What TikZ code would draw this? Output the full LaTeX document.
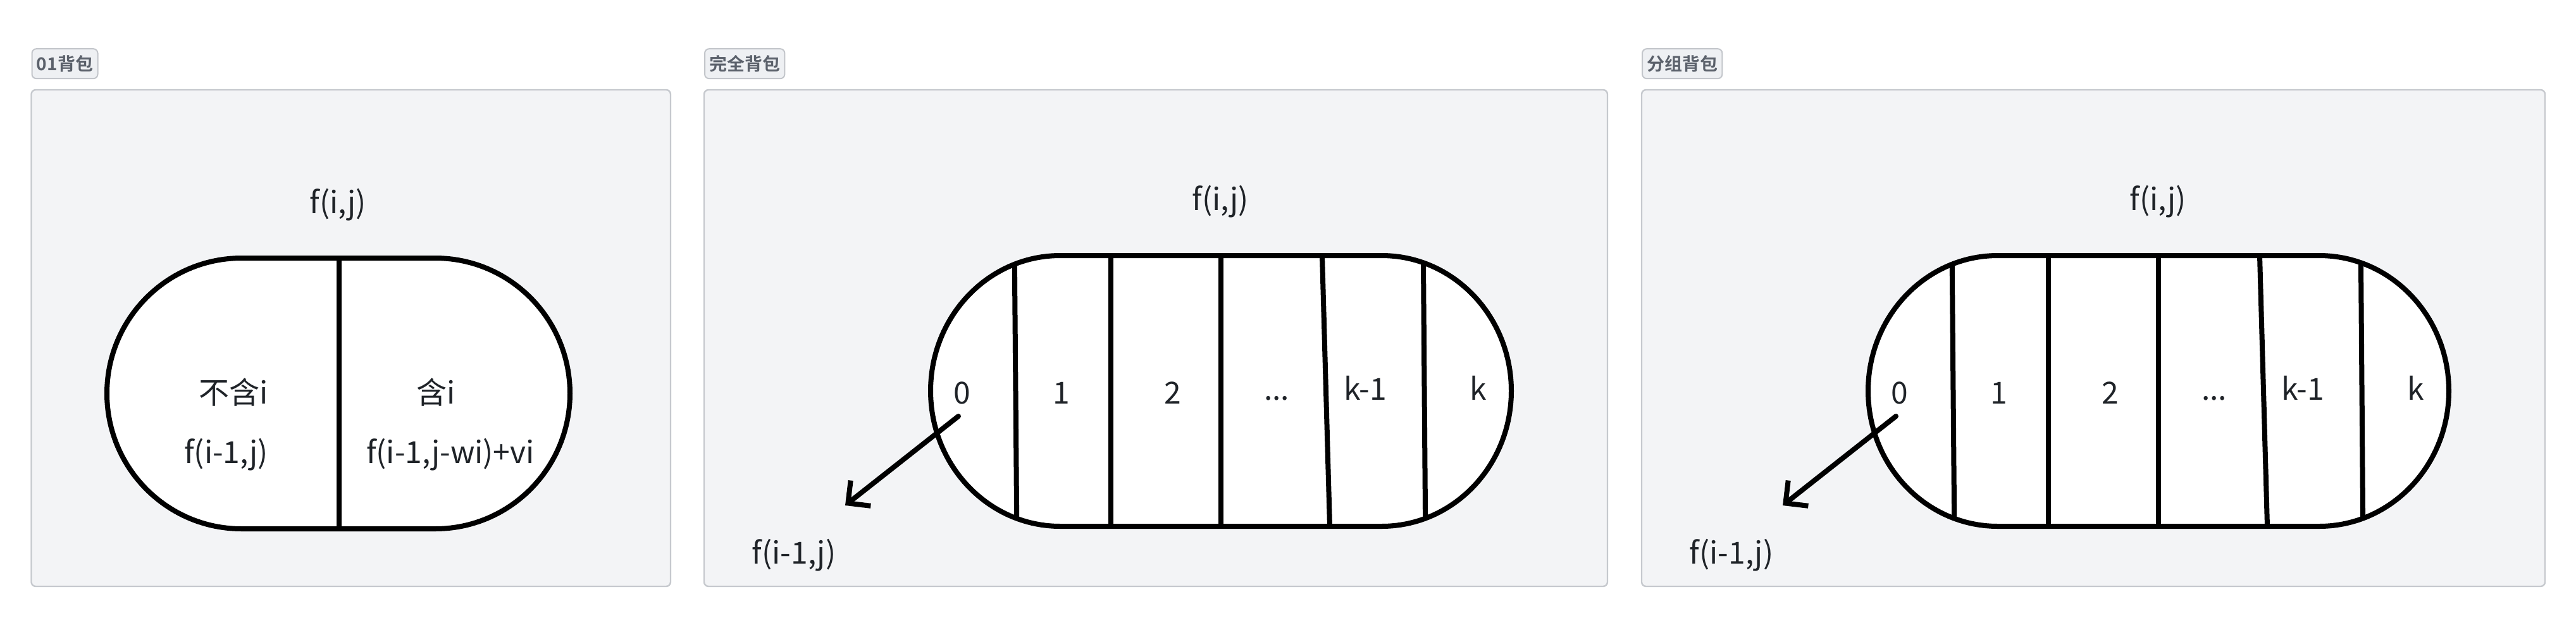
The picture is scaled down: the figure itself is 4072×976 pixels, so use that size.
\documentclass[tikz,border=0pt]{standalone}
\usepackage{fontspec}
\setmainfont{Noto Sans CJK SC}
\newfontfamily\tagfont{Noto Sans CJK SC Bold}
\usetikzlibrary{arrows.meta}
\definecolor{panelfill}{HTML}{F3F4F6}
\definecolor{panelborder}{HTML}{C6C9CE}
\definecolor{tagfill}{HTML}{EEF0F3}
\definecolor{tagborder}{HTML}{C3C6CB}
\definecolor{tagtext}{HTML}{5B616B}
\definecolor{textdark}{HTML}{1F2328}
\tikzset{
  panel/.style={draw=panelborder, fill=panelfill, line width=0.6pt, rounded corners=1.75pt},
  tag/.style={draw=tagborder, fill=tagfill, line width=0.5pt, rounded corners=1.75pt,
    text=tagtext, font=\tagfont\fontsize{7}{8}\selectfont, inner xsep=1.8pt, inner ysep=0pt,
    minimum height=11.75pt, anchor=west},
  lbl/.style={text=textdark, font=\fontsize{12}{14}\selectfont, inner sep=0pt, anchor=base},
  outline/.style={draw=black, line width=2pt, line join=round},
  divline/.style={draw=black, line width=2pt},
  arr/.style={draw=black, line width=2pt, line cap=round,
    -{Straight Barb[length=6.4pt, width=12.8pt]}},
  stadA/.style={insert path={(382,408) -- (688,408)
      arc[start angle=90, end angle=-90, x radius=53.25pt, y radius=53.5pt]
      -- (382,836)
      arc[start angle=270, end angle=90, x radius=53.25pt, y radius=53.5pt] -- cycle}},
  stadB/.style={insert path={(1676,404) -- (2184,404)
      arc[start angle=90, end angle=-90, x radius=51.25pt, y radius=53.5pt]
      -- (1676,832)
      arc[start angle=270, end angle=90, x radius=51.25pt, y radius=53.5pt] -- cycle}},
}
\newcommand\fullpanel[3]{%
  \begin{scope}[xshift=#1]
    \node[tag, minimum width=31.6pt] (#2tag) at (1113,100.7) {#3};
    \draw[panel] (1113,142) rectangle (2541,927);
    \node[lbl] (#2top) at (1929.5,332) {f(i,j)};
    \fill[white, stadB];
    \begin{scope}
      \clip[stadB];
      \draw[divline] (1603.5,380) -- (1607.5,860);
      \draw[divline] (1756,380) -- (1756,860);
      \draw[divline] (1930,380) -- (1930,860);
      \draw[divline] (2089.3,380) -- (2102.8,860);
      \draw[divline] (2249.7,380) -- (2253.4,860);
    \end{scope}
    \draw[outline, stadB];
    \node[lbl] (#2c0) at (1521,638) {0};
    \node[lbl] (#2c1) at (1678,638) {1};
    \node[lbl] (#2c2) at (1854,638) {2};
    \node[lbl] (#2cd) at (2018,632) {...};
    \node[lbl] (#2ckm) at (2158,632) {k-1};
    \node[lbl] (#2ck) at (2337,632) {k};
    \node[lbl] (#2prev) at (1255,891) {f(i-1,j)};
    \coordinate (#2as) at (1515,658);
    \coordinate (#2ae) at (1336,799);
    \draw[arr] (#2as) -- (#2ae);
  \end{scope}}
\begin{document}
\begin{tikzpicture}[x=0.25pt, y=-0.25pt]
  \useasboundingbox (0,0) rectangle (4072,976);
  \fill[white] (0,0) rectangle (4072,976);
  % panel 1: 01 knapsack
  \node[tag, minimum width=26pt] (tagA) at (49.5,100.7) {01背包};
  \draw[panel] (49.5,142) rectangle (1060,927);
  \node[lbl] (topA) at (534,337) {f(i,j)};
  \fill[white, stadA];
  \begin{scope}
    \clip[stadA];
    \draw[divline] (536,380) -- (536,860);
  \end{scope}
  \draw[outline, stadA];
  \node[lbl] (exA) at (369,638) {不含i};
  \node[lbl] (inA) at (689,638) {含i};
  \node[lbl] (exvA) at (357.5,732) {f(i-1,j)};
  \node[lbl] (invA) at (712,732) {f(i-1,j-wi)+vi};
  % panel 2 and 3
  \fullpanel{0pt}{B}{完全背包}
  \fullpanel{370.5pt}{C}{分组背包}
\end{tikzpicture}
\end{document}
